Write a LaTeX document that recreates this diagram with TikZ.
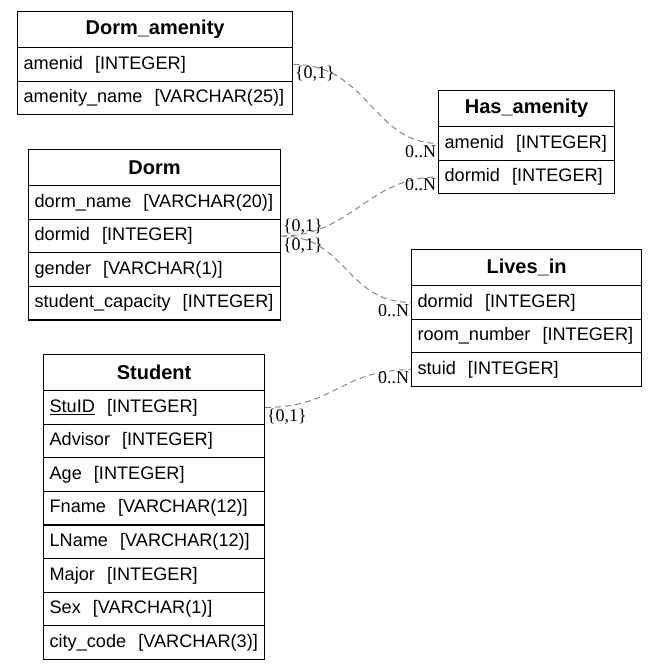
\documentclass[tikz,border=0pt]{standalone}
\usepackage{fontspec}
\setmainfont{Liberation Sans}
\newfontfamily\cardfont{Liberation Serif}
\tikzset{
  tbltitle/.style={draw, anchor=north west, inner sep=0pt, minimum height=27pt,
    minimum width=#1, font=\fontsize{15pt}{17pt}\selectfont\bfseries},
  tblrow/.style={draw, anchor=north west, inner xsep=4.5pt, inner ysep=0pt,
    minimum height=25.2pt, text width=#1, align=left,
    font=\fontsize{13.6pt}{16pt}\selectfont},
  rel/.style={draw=gray, line width=0.7pt, dash pattern=on 4.5pt off 3pt},
  card/.style={inner sep=1pt, font=\cardfont\fontsize{13.5pt}{15pt}\selectfont}
}
\begin{document}
\begin{tikzpicture}[x=0.75pt, y=-0.75pt, line width=0.9pt]
  \useasboundingbox (0,0) rectangle (657,669);
  % Dorm_amenity
  \begin{scope}[shift={(17,11)}]
    \node[tbltitle=206.25pt] (dormamenity) at (0,0) {Dorm\_amenity};
    \foreach \name/\txt [count=\i] in {amenid/amenid\ \ [INTEGER],
        amenityname/amenity\_name\ \ [VARCHAR(25)]}
      \node[tblrow=197.25pt] (dormamenity-\name) at (0,{36+(\i-1)*33.6}) {\mbox{\txt}};
  \end{scope}
  % Has_amenity
  \begin{scope}[shift={(438,90)}]
    \node[tbltitle=132pt] (hasamenity) at (0,0) {Has\_amenity};
    \foreach \name/\txt [count=\i] in {amenid/amenid\ \ [INTEGER],
        dormid/dormid\ \ [INTEGER]}
      \node[tblrow=123pt] (hasamenity-\name) at (0,{36+(\i-1)*33.6}) {\mbox{\txt}};
  \end{scope}
  % Dorm
  \begin{scope}[shift={(28,149)}]
    \node[tbltitle=189pt] (dorm) at (0,0) {Dorm};
    \foreach \name/\txt [count=\i] in {dormname/dorm\_name\ \ [VARCHAR(20)],
        dormid/dormid\ \ [INTEGER],
        gender/gender\ \ [VARCHAR(1)],
        capacity/student\_capacity\ \ [INTEGER]}
      \node[tblrow=180pt] (dorm-\name) at (0,{36+(\i-1)*33.6}) {\mbox{\txt}};
  \end{scope}
  % Lives_in
  \begin{scope}[shift={(411,249)}]
    \node[tbltitle=172.5pt] (livesin) at (0,0) {Lives\_in};
    \foreach \name/\txt [count=\i] in {dormid/dormid\ \ [INTEGER],
        roomnumber/room\_number\ \ [INTEGER],
        stuid/stuid\ \ [INTEGER]}
      \node[tblrow=163.5pt] (livesin-\name) at (0,{36+(\i-1)*33.6}) {\mbox{\txt}};
  \end{scope}
  % Student
  \begin{scope}[shift={(43,354)}]
    \node[tbltitle=165.75pt] (student) at (0,0) {Student};
    \foreach \name/\txt [count=\i] in {stuid/\underline{StuID}\ \ [INTEGER],
        advisor/Advisor\ \ [INTEGER],
        age/Age\ \ [INTEGER],
        fname/Fname\ \ [VARCHAR(12)],
        lname/LName\ \ [VARCHAR(12)],
        major/Major\ \ [INTEGER],
        sex/Sex\ \ [VARCHAR(1)],
        citycode/city\_code\ \ [VARCHAR(3)]}
      \node[tblrow=156.75pt] (student-\name) at (0,{36+(\i-1)*33.6}) {\mbox{\txt}};
  \end{scope}
  % relations
  \draw[rel] (dormamenity-amenid.east) .. controls +(75,0) and +(-65,0) .. (hasamenity-amenid.west)
    node[card, pos=0, anchor=north west] {\{0,1\}}
    node[card, pos=1, anchor=north east] {0..N};
  \draw[rel] (dorm-dormid.east) .. controls +(70,0) and +(-70,0) .. (hasamenity-dormid.west)
    node[card, pos=0, anchor=south west] {\{0,1\}}
    node[card, pos=1, anchor=north east] {0..N};
  \draw[rel] (dorm-dormid.east) .. controls +(65,0) and +(-65,0) .. (livesin-dormid.west)
    node[card, pos=0, anchor=north west] {\{0,1\}}
    node[card, pos=1, anchor=north east] {0..N};
  \draw[rel] (student-stuid.east) .. controls +(70,0) and +(-70,0) .. (livesin-stuid.west)
    node[card, pos=0, anchor=north west] {\{0,1\}}
    node[card, pos=1, anchor=north east] {0..N};
\end{tikzpicture}
\end{document}
